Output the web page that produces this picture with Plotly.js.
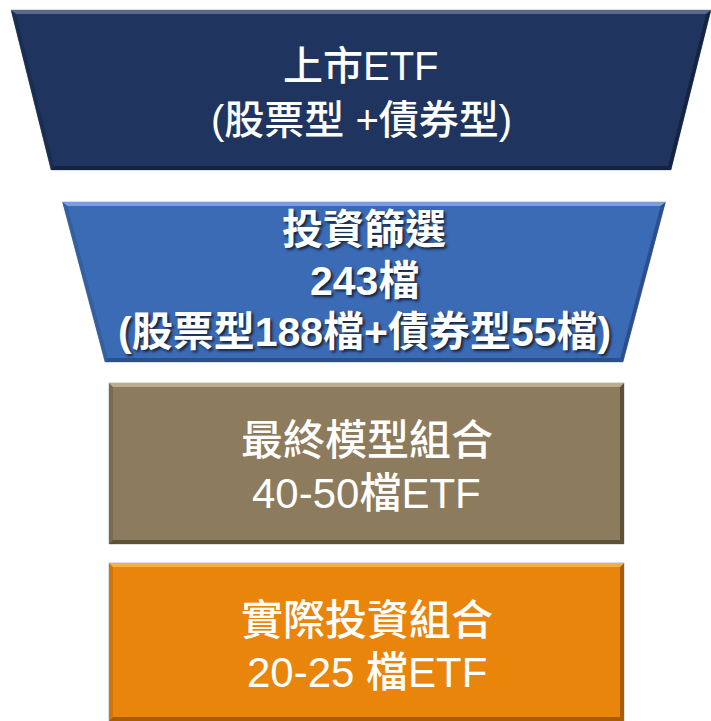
<!DOCTYPE html>
<html>
<head>
<meta charset="utf-8">
<script src="https://cdn.plot.ly/plotly-3.0.1.min.js"></script>
<style>html,body{margin:0;padding:0;background:#fff;}#chart{width:711px;height:721px;}</style>
</head>
<body>
<div id="chart"></div>
<script>
// ---- data ----
const stageLines = [
  ['上市ETF', '(股票型 +債券型)'],
  ['投資篩選', '243檔', '(股票型188檔+債券型55檔)'],
  ['最終模型組合', '40-50檔ETF'],
  ['實際投資組合', '20-25 檔ETF']
];
const stageTopWidth = [700, 603, 515, 515];
const stageBottomWidth = [620, 518, 515, 515];
const stageColors = ['#1f3560', '#3c6bb6', '#8c7b5c', '#e8850a'];
const stageLight = ['#56698f', '#7aa0dc', '#bcae8c', '#f8ad4a'];
const stageDark = ['#142440', '#2a4f8c', '#5e5138', '#a85c04'];
const stageMid = ['#1a2d52', '#33609f', '#7a6a4e', '#cf7608'];

// ---- layout geometry ----
const W = 711, H = 721;
const tops = [10, 202, 383, 563];
const bottoms = [170, 362, 544, 721];
const centers = [361, 364, 366.5, 366.5];
const lineY = [[66, 120], [230, 281, 332], [440, 493], [620, 672]];
const textBold = [false, true, false, false];
const textSize = [40, 41, 42, 42];

const traces = [];
function poly(xs, ys, color, lineColor) {
  traces.push({
    type: 'scatter', mode: 'lines', x: xs.concat([xs[0]]), y: ys.concat([ys[0]]),
    fill: 'toself', fillcolor: color,
    line: {width: lineColor ? 1 : 0, color: lineColor || color},
    hoverinfo: 'skip', showlegend: false
  });
}
const b = 4;
const annotations = [];
stageLines.forEach((lines, i) => {
  const c = centers[i];
  const t = tops[i], btm = bottoms[i];
  const tl = c - stageTopWidth[i] / 2, tr = c + stageTopWidth[i] / 2;
  const bl = c - stageBottomWidth[i] / 2, br = c + stageBottomWidth[i] / 2;
  const dxL = (bl - tl) / (btm - t);
  const dxR = (br - tr) / (btm - t);
  const itl = tl + b + dxL * b, itr = tr - b + dxR * b;
  const ibl = bl + b - dxL * b, ibr = br - b - dxR * b;
  const it = t + b, ib = btm - b;
  poly([tl, tr, br, bl], [t, t, btm, btm], stageColors[i], 'rgba(140,140,140,0.55)');
  poly([tl, bl, ibl, itl], [t, btm, ib, it], stageMid[i]);
  poly([tr, br, ibr, itr], [t, btm, ib, it], stageDark[i]);
  poly([bl, br, ibr, ibl], [btm, btm, ib, ib], stageDark[i]);
  poly([tl, tr, itr, itl], [t, t, it, it], stageLight[i]);
  poly([itl, itr, ibr, ibl], [it, it, ib, ib], stageColors[i]);

  lines.forEach((txt, k) => {
    annotations.push({
      x: c, y: lineY[i][k], xref: 'x', yref: 'y', text: txt, showarrow: false,
      xanchor: 'center', yanchor: 'middle',
      font: {
        family: '"Liberation Sans", "Noto Sans CJK TC", sans-serif',
        size: textSize[i], color: '#ffffff',
        weight: textBold[i] ? 'bold' : 500,
        shadow: textBold[i] ? '2px 2px 3px rgba(0,0,0,0.7)' : 'none'
      }
    });
  });
});

const layout = {
  width: W, height: H,
  margin: {l: 0, r: 0, t: 0, b: 0},
  paper_bgcolor: '#ffffff', plot_bgcolor: '#ffffff',
  xaxis: {range: [0, W], visible: false, fixedrange: true},
  yaxis: {range: [H, 0], visible: false, fixedrange: true},
  showlegend: false,
  annotations: annotations
};
Plotly.newPlot('chart', traces, layout, {staticPlot: true, displayModeBar: false});
</script>
</body>
</html>
